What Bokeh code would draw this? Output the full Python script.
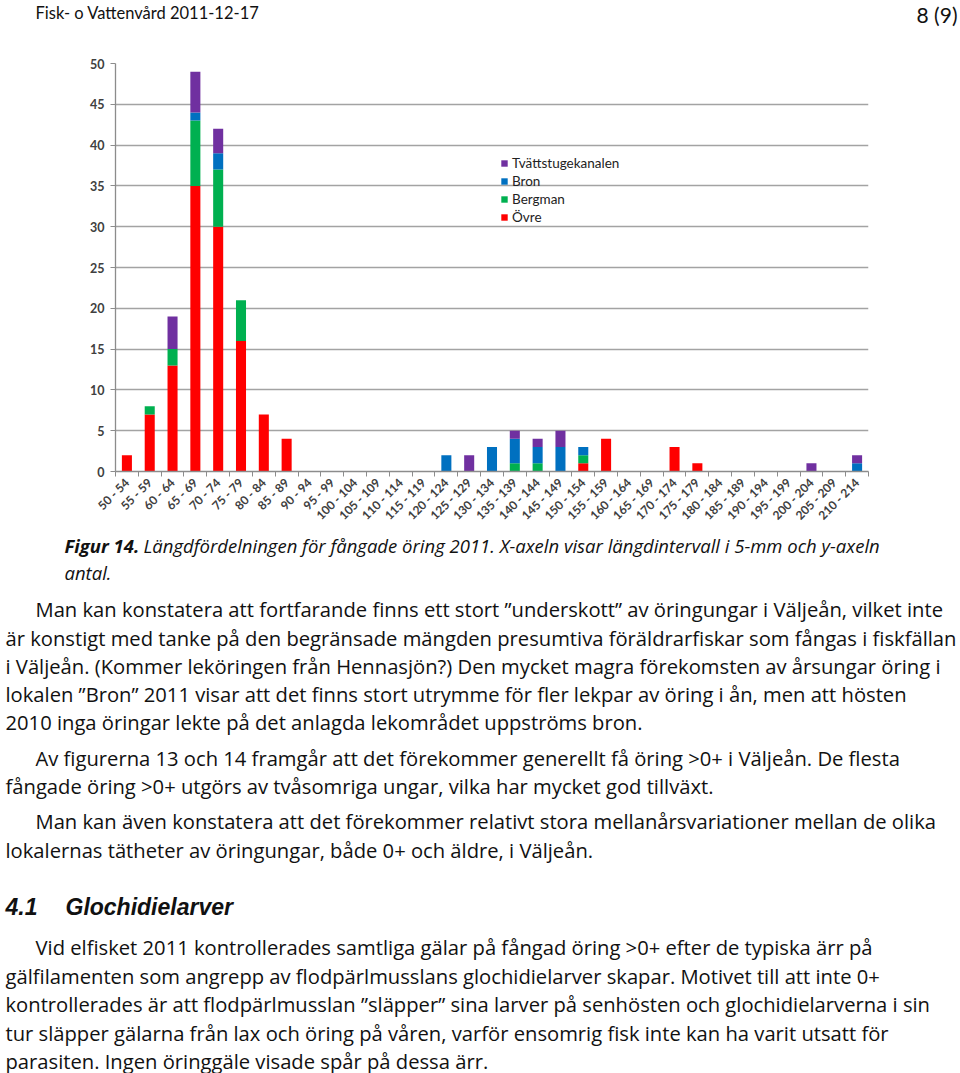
import math
from bokeh.plotting import figure
from bokeh.layouts import column
from bokeh.models import (Range1d, FixedTicker, SingleIntervalTicker, Label,
                          Legend, LegendItem, ColumnDataSource)
from bokeh.embed import file_html
from bokeh.resources import INLINE

# ---------------- data ----------------
categories = ["50 - 54", "55 - 59", "60 - 64", "65 - 69", "70 - 74", "75 - 79",
              "80 - 84", "85 - 89", "90 - 94", "95 - 99", "100 - 104", "105 - 109",
              "110 - 114", "115 - 119", "120 - 124", "125 - 129", "130 - 134",
              "135 - 139", "140 - 144", "145 - 149", "150 - 154", "155 - 159",
              "160 - 164", "165 - 169", "170 - 174", "175 - 179", "180 - 184",
              "185 - 189", "190 - 194", "195 - 199", "200 - 204", "205 - 209",
              "210 - 214"]
ovre     = [2, 7, 13, 35, 30, 16, 7, 4, 0, 0, 0, 0, 0, 0, 0, 0, 0, 0, 0, 0, 1, 4, 0, 0, 3, 1, 0, 0, 0, 0, 0, 0, 0]
bergman  = [0, 1, 2, 8, 7, 5, 0, 0, 0, 0, 0, 0, 0, 0, 0, 0, 0, 1, 1, 0, 1, 0, 0, 0, 0, 0, 0, 0, 0, 0, 0, 0, 0]
bron     = [0, 0, 0, 1, 2, 0, 0, 0, 0, 0, 0, 0, 0, 0, 2, 0, 3, 3, 2, 3, 1, 0, 0, 0, 0, 0, 0, 0, 0, 0, 0, 0, 1]
tvatt    = [0, 0, 4, 5, 3, 0, 0, 0, 0, 0, 0, 0, 0, 0, 0, 2, 0, 1, 1, 2, 0, 0, 0, 0, 0, 0, 0, 0, 0, 0, 1, 0, 1]
series_names = ["Övre", "Bergman", "Bron", "Tvättstugekanalen"]
colors = ["#FF0000", "#00B050", "#0070C0", "#7030A0"]
y_max = 50
y_ticks_interval = 5

header_left = "Fisk- o Vattenvård 2011-12-17"
header_right = "8 (9)"
caption_bold = "Figur 14."
caption_rest = "Längdfördelningen för fångade öring 2011. X-axeln visar längdintervall i 5-mm och y-axeln"
caption_line2 = "antal."
body_lines = [
    "Man kan konstatera att fortfarande finns ett stort \u201dunderskott\u201d av öringungar i Väljeån, vilket inte",
    "är konstigt med tanke på den begränsade mängden presumtiva föräldrarfiskar som fångas i fiskfällan",
    "i Väljeån. (Kommer leköringen från Hennasjön?) Den mycket magra förekomsten av årsungar öring i",
    "lokalen \u201dBron\u201d 2011 visar att det finns stort utrymme för fler lekpar av öring i ån, men att hösten",
    "2010 inga öringar lekte på det anlagda lekområdet uppströms bron.",
    "Av figurerna 13 och 14 framgår att det förekommer generellt få öring >0+ i Väljeån. De flesta",
    "fångade öring >0+ utgörs av tvåsomriga ungar, vilka har mycket god tillväxt.",
    "Man kan även konstatera att det förekommer relativt stora mellanårsvariationer mellan de olika",
    "lokalernas tätheter av öringungar, både 0+ och äldre, i Väljeån.",
]
heading_num = "4.1"
heading_text = "Glochidielarver"
body2_lines = [
    "Vid elfisket 2011 kontrollerades samtliga gälar på fångad öring >0+ efter de typiska ärr på",
    "gälfilamenten som angrepp av flodpärlmusslans glochidielarver skapar. Motivet till att inte 0+",
    "kontrollerades är att flodpärlmusslan \u201dsläpper\u201d sina larver på senhösten och glochidielarverna i sin",
    "tur släpper gälarna från lax och öring på våren, varför ensomrig fisk inte kan ha varit utsatt för",
    "parasiten. Ingen öringgäle visade spår på dessa ärr.",
]

# ---------------- layout constants (page px) ----------------
W = 960
HEAD_H = 40            # header strip: page y 0..40
CHART_TOP, CHART_BOT = 40, 530
BODY_TOP, BODY_BOT = 530, 1073
FL, FT, FW, FH = 115, 63, 753, 409   # chart frame left/top/width/height (page px)
FB = FT + FH
BODY_FONT = "Open Sans"
BODY_SIZE = 20.2


def no_align(f):
    try:
        f.frame_align = False
    except Exception:
        pass


def text_fig(top, bottom):
    h = bottom - top
    f = figure(width=W, height=h, output_backend="svg", toolbar_location=None,
               x_range=Range1d(0, W), y_range=Range1d(h, 0),
               x_axis_type=None, y_axis_type=None,
               min_border=0, min_border_left=0, min_border_right=0,
               min_border_top=0, min_border_bottom=0)
    f.outline_line_color = None
    f.background_fill_color = "white"
    f.border_fill_color = "white"
    no_align(f)
    return f


def put(f, top, text, x, y, size, font=BODY_FONT, style="normal", color="#111111", align="left"):
    f.add_layout(Label(x=x, y=y - top, text=text,
                       text_font=font, text_font_size=f"{size}px", text_font_style=style,
                       text_color=color, text_align=align, text_baseline="alphabetic"))


# ---------------- header ----------------
head = text_fig(0, HEAD_H)
put(head, 0, header_left, 35, 12, 16.5, font="Lato")
put(head, 0, header_right, 957, 14, 21, font="Lato", align="right")

# ---------------- chart ----------------
n = len(categories)
centers = [i + 0.5 for i in range(n)]
bounds = [i for i in range(n + 1)]
src = ColumnDataSource(dict(x=centers, ovre=ovre, bergman=bergman, bron=bron, tvatt=tvatt))

p = figure(width=W, height=CHART_BOT - CHART_TOP, output_backend="svg", toolbar_location=None,
           x_range=Range1d(0, n), y_range=Range1d(0, y_max),
           min_border_left=FL, min_border_right=W - FL - FW,
           min_border_top=FT - CHART_TOP, min_border_bottom=CHART_BOT - FB)
p.outline_line_color = None
p.background_fill_color = "white"
p.border_fill_color = "white"
no_align(p)

rs = p.vbar_stack(["ovre", "bergman", "bron", "tvatt"], x="x", width=0.44,
                  color=colors, line_color=None, source=src)

p.xgrid.visible = False
p.ygrid.grid_line_color = "#A3A3A3"
p.ygrid.grid_line_width = 1.3
p.yaxis.ticker = SingleIntervalTicker(interval=y_ticks_interval)
p.yaxis.axis_line_color = "#8C8C8C"
p.yaxis.axis_line_width = 1.3
p.yaxis.major_tick_line_color = "#8C8C8C"
p.yaxis.major_tick_out = 5
p.yaxis.major_tick_in = 0
p.yaxis.minor_tick_line_color = None
p.yaxis.major_label_text_font = "Lato"
p.yaxis.major_label_text_font_size = "12.5px"
p.yaxis.major_label_text_font_style = "bold"
p.yaxis.major_label_text_color = "#404040"
p.yaxis.major_label_standoff = 6

p.xaxis.ticker = FixedTicker(ticks=centers, minor_ticks=bounds)
p.xaxis.major_label_overrides = {c: lab for c, lab in zip(centers, categories)}
p.xaxis.axis_line_color = "#8C8C8C"
p.xaxis.axis_line_width = 1.3
p.xaxis.major_tick_line_color = None
p.xaxis.major_tick_out = 0
p.xaxis.major_tick_in = 0
p.xaxis.minor_tick_line_color = "#8C8C8C"
p.xaxis.minor_tick_out = 5
p.xaxis.minor_tick_in = 0
p.xaxis.major_label_orientation = math.pi / 4
p.xaxis.major_label_text_font = "Lato"
p.xaxis.major_label_text_font_size = "12px"
p.xaxis.major_label_text_font_style = "bold"
p.xaxis.major_label_text_color = "#404040"
p.xaxis.major_label_standoff = 4

legend = Legend(items=[LegendItem(label=series_names[k], renderers=[rs[k]]) for k in [3, 2, 1, 0]],
                location=(500 - FL, FB - 226), orientation="vertical",
                glyph_width=8, glyph_height=8, label_standoff=4, spacing=2,
                padding=0, margin=0, border_line_color=None, background_fill_alpha=0,
                label_text_font="Lato", label_text_font_size="13.5px",
                label_text_color="#222222", label_height=16)
p.add_layout(legend)

# ---------------- body text ----------------
body = text_fig(BODY_TOP, BODY_BOT)
put(body, BODY_TOP, caption_bold, 64, 545, 18.5, style="bold italic")
put(body, BODY_TOP, caption_rest, 143, 545, 18.5, style="italic")
put(body, BODY_TOP, caption_line2, 64, 572, 18.5, style="italic")

body_y = [608, 637, 665, 693, 721, 757, 785, 820, 849]
body_x = [35, 5, 5, 5, 5, 35, 5, 35, 5]
for t, x, y in zip(body_lines, body_x, body_y):
    put(body, BODY_TOP, t, x, y, BODY_SIZE)

put(body, BODY_TOP, heading_num, 5, 906, 23, font="Liberation Sans", style="bold italic")
put(body, BODY_TOP, heading_text, 65, 906, 23, font="Liberation Sans", style="bold italic")

body2_y = [946, 975, 1003, 1032, 1060]
body2_x = [35, 5, 5, 5, 5]
for t, x, y in zip(body2_lines, body2_x, body2_y):
    put(body, BODY_TOP, t, x, y, BODY_SIZE)

layout = column(head, p, body, spacing=0)
open("out.html", "w").write(file_html(layout, INLINE))
